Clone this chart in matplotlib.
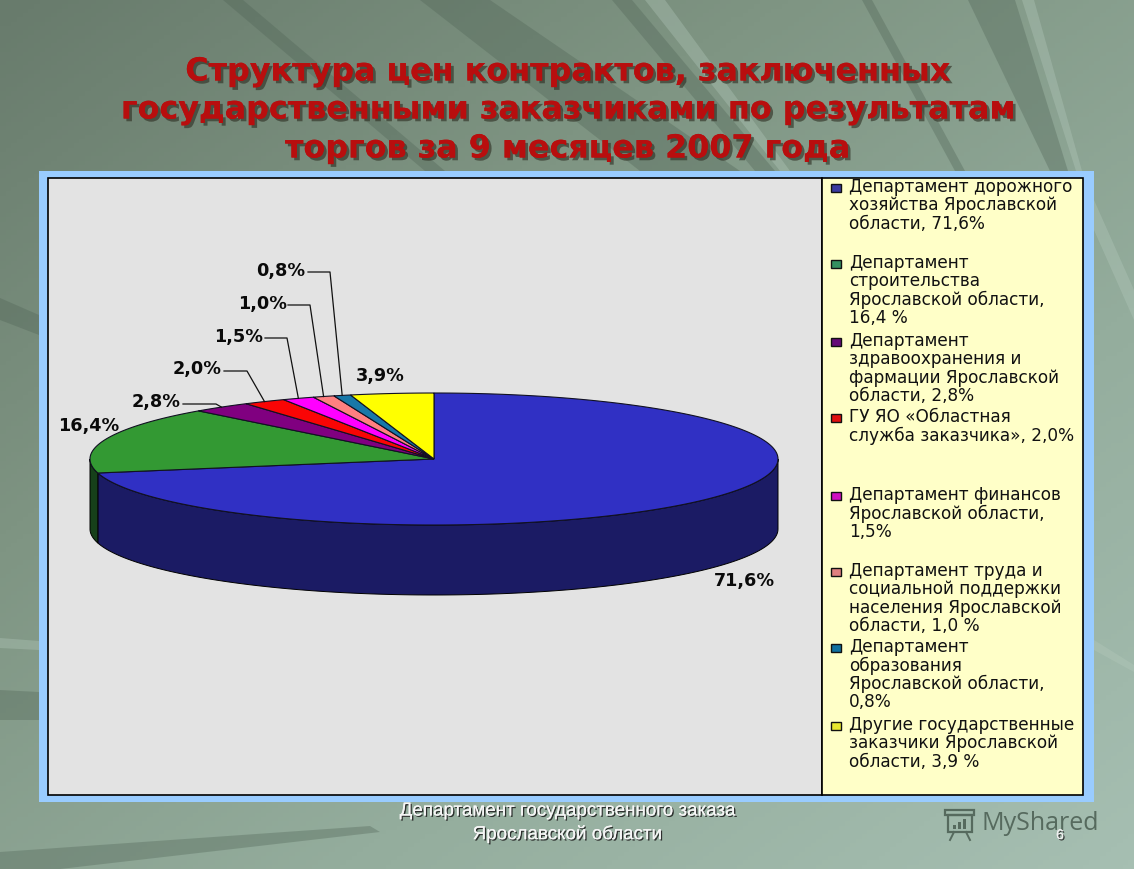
import numpy as np
import matplotlib
matplotlib.use("Agg")
import matplotlib.pyplot as plt
import matplotlib.patheffects as pe
from matplotlib.colors import LinearSegmentedColormap
from matplotlib.patches import Polygon, Rectangle

W, H = 1134, 869
DPI = 100

title_lines = [
    "Структура цен контрактов, заключенных",
    "государственными заказчиками по результатам",
    "торгов за 9 месяцев 2007 года",
]
shares = [71.6, 16.4, 2.8, 2.0, 1.5, 1.0, 0.8, 3.9]
share_labels = ["71,6%", "16,4%", "2,8%", "2,0%", "1,5%", "1,0%", "0,8%", "3,9%"]
top_colors = ["#3030c4", "#339933", "#800080", "#fa0505", "#ff00ff", "#ff8080", "#1878a8", "#ffff00"]
wall_colors = ["#1b1b64", "#16401a"]
swatch_colors = ["#3a3aa0", "#339060", "#660a78", "#e01010", "#d010c0", "#e08080", "#1070a0", "#e8e830"]
legend_entries = [
    ["Департамент дорожного", "хозяйства Ярославской", "области, 71,6%"],
    ["Департамент", "строительства", "Ярославской области,", "16,4 %"],
    ["Департамент", "здравоохранения и", "фармации Ярославской", "области, 2,8%"],
    ["ГУ ЯО «Областная", "служба заказчика», 2,0%"],
    ["Департамент финансов", "Ярославской области,", "1,5%"],
    ["Департамент труда и", "социальной поддержки", "населения Ярославской", "области, 1,0 %"],
    ["Департамент", "образования", "Ярославской области,", "0,8%"],
    ["Другие государственные", "заказчики Ярославской", "области, 3,9 %"],
]
footer_lines = ["Департамент государственного заказа", "Ярославской области"]

# layout, in pixels of the slide
CX, CY, RX, RY, DEPTH = 434, 459, 344, 66, 70
legend_y = [187, 263, 341, 417, 495, 571, 647, 725]
label_xy = {
    0: (744, 581), 1: (89, 426), 2: (156, 402), 3: (197, 369),
    4: (239, 337), 5: (262, 304), 6: (281, 271), 7: (380, 376),
}
elbow_xy = {2: (216, 404), 3: (247, 371), 4: (287, 338), 5: (310, 305), 6: (330, 272)}
leader_start_x = {2: 183, 3: 224, 4: 265, 5: 288, 6: 308}


def px(size):
    return size * 72 / DPI


def rim(theta):
    # clockwise from 12 o'clock, squashed into the tilted ellipse
    return CX + RX * np.sin(theta), CY - RY * np.cos(theta)


fig = plt.figure(figsize=(W / DPI, H / DPI), dpi=DPI)
ax = fig.add_axes([0, 0, 1, 1])
ax.set_xlim(0, W)
ax.set_ylim(H, 0)
ax.axis("off")

# slide background
yy, xx = np.mgrid[0:1:200j, 0:1:200j]
grad = 0.55 * xx + 0.6 * yy
cmap = LinearSegmentedColormap.from_list("bg", ["#687b6c", "#7f9583", "#94ad9d", "#a6bfb2"])
ax.imshow(grad, extent=[0, W, H, 0], cmap=cmap, aspect="auto", zorder=0, vmin=0, vmax=1.15)

dark_bands = [
    [(223, 0), (243, 0), (445, 171), (425, 171)],
    [(420, 0), (490, 0), (740, 171), (640, 171)],
    [(612, 0), (632, 0), (775, 171), (755, 171)],
    [(862, 0), (872, 0), (965, 171), (955, 171)],
    [(968, 0), (1015, 0), (1068, 171), (1050, 171)],
    [(0, 298), (39, 315), (39, 335), (0, 320)],
    [(0, 690), (39, 692), (39, 720), (0, 720)],
    [(0, 852), (370, 826), (380, 832), (60, 869), (0, 869)],
]
light_bands = [
    [(645, 0), (665, 0), (790, 171), (780, 171)],
    [(1022, 0), (1034, 0), (1082, 171), (1076, 171)],
    [(0, 638), (39, 641), (39, 650), (0, 648)],
    [(1094, 200), (1134, 290), (1134, 320), (1094, 230)],
    [(1094, 640), (1134, 665), (1134, 672), (1094, 650)],
]
for band in dark_bands:
    ax.add_patch(Polygon(band, fc="#4f6355", ec="none", alpha=0.35, zorder=1))
for band in light_bands:
    ax.add_patch(Polygon(band, fc="#b5cabd", ec="none", alpha=0.35, zorder=1))

# chart panel
ax.add_patch(Rectangle((39, 171), 1055, 631, fc="#99ccff", ec="none", zorder=2))
ax.add_patch(Rectangle((48, 178), 774, 617, fc="#e3e3e3", ec="black", lw=1.2, zorder=3))
ax.add_patch(Rectangle((822, 178), 261, 617, fc="#ffffc8", ec="black", lw=1.2, zorder=3))

# pie: side walls first, then the top face
edges = 2 * np.pi * np.cumsum([0] + shares) / sum(shares)
for i in range(2):
    lo = max(edges[i], np.pi / 2)
    hi = min(edges[i + 1], 3 * np.pi / 2)
    t = np.linspace(lo, hi, 160)
    x, y = rim(t)
    wall = np.r_[np.c_[x, y], np.c_[x[::-1], y[::-1] + DEPTH]]
    ax.add_patch(Polygon(wall, fc=wall_colors[i], ec="black", lw=0.7, zorder=4))

for i, share in enumerate(shares):
    t = np.linspace(edges[i], edges[i + 1], 200)
    x, y = rim(t)
    face = np.r_[[[CX, CY]], np.c_[x, y]]
    ax.add_patch(Polygon(face, fc=top_colors[i], ec="#111122", lw=0.8, zorder=5))

# value labels and their leaders
mids = (edges[:-1] + edges[1:]) / 2
for i, label in enumerate(share_labels):
    lx, ly = label_xy[i]
    ax.text(lx, ly, label, fontsize=px(17.6), fontweight="bold", color="#0a0a0a",
            ha="center", va="center", family="DejaVu Sans", zorder=7)
    if i in elbow_xy:
        ex, ey = elbow_xy[i]
        mx, my = rim(mids[i])
        ax.plot([leader_start_x[i], ex, mx], [ey, ey, my], color="#111111", lw=0.9, zorder=6)

# legend
for entry, y0, color in zip(legend_entries, legend_y, swatch_colors):
    ax.add_patch(Rectangle((831, y0 - 3), 10, 8, fc=color, ec="#111111", lw=1.0, zorder=6))
    for j, line in enumerate(entry):
        ax.text(849, y0 + j * 18.4, line, fontsize=px(16.9), color="#111111",
                ha="left", va="center", family="DejaVu Sans", zorder=7)

# title
shadow = [pe.withSimplePatchShadow(offset=(2, -2), shadow_rgbFace="#2c2c20", alpha=0.6), pe.Normal()]
for line, y in zip(title_lines, [72, 110, 149]):
    ax.text(567, y, line, fontsize=px(31.8), fontweight="bold", color="#b80e0e", ha="center",
            va="center", family="DejaVu Sans", path_effects=shadow, zorder=8)

# footer
foot = [pe.withSimplePatchShadow(offset=(1, -1), shadow_rgbFace="#222222", alpha=0.9), pe.Normal()]
for line, y in zip(footer_lines, [811, 834]):
    ax.text(567, y, line, fontsize=px(18.8), color="#f6f6f6", ha="center", va="center",
            family="Liberation Sans", path_effects=foot, zorder=8)

# watermark and slide number
wm = "#566a5e"
ax.add_patch(Rectangle((945, 810), 29, 5, fc="none", ec=wm, lw=1.6, zorder=6))
ax.add_patch(Rectangle((948, 815), 24, 17, fc="none", ec=wm, lw=1.6, zorder=6))
for bar_x, bar_h in zip([953, 958, 963], [4, 7, 10]):
    ax.add_patch(Rectangle((bar_x, 829 - bar_h), 3, bar_h, fc=wm, ec="none", zorder=6))
ax.plot([954, 950], [832, 840], color=wm, lw=1.4, zorder=6)
ax.plot([966, 970], [832, 840], color=wm, lw=1.4, zorder=6)
ax.text(982, 824, "MyShared", fontsize=px(25), color=wm, ha="left", va="center",
        family="Open Sans", zorder=6)
ax.text(1060, 835, "6", fontsize=px(14), color="#f0f0f0", ha="center", va="center",
        family="Liberation Sans", path_effects=foot, zorder=8)

fig.savefig("out.png", dpi=DPI)
plt.close(fig)
